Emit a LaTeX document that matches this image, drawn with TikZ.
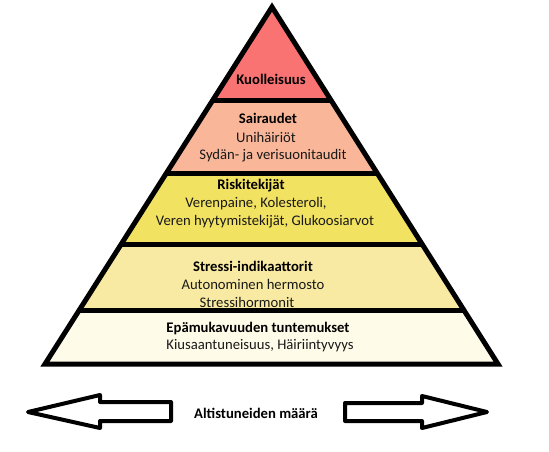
\documentclass[tikz,border=0pt]{standalone}
\usepackage{fontspec}
\setmainfont{Carlito}
\usetikzlibrary{calc}
\definecolor{cdeath}{RGB}{250,115,115}
\definecolor{cdis}{RGB}{250,182,152}
\definecolor{crisk}{RGB}{242,226,98}
\definecolor{cstress}{RGB}{248,234,162}
\definecolor{cdisc}{RGB}{254,251,232}
\definecolor{ctext}{RGB}{25,25,25}
\tikzset{
  band/.style={draw=none},
  edge/.style={line width=5pt, line join=miter, line cap=butt},
  head/.style={font=\fontsize{14.67}{18}\selectfont\bfseries, text=black, anchor=base, inner sep=0pt},
  item/.style={font=\fontsize{14.67}{18}\selectfont, text=ctext, anchor=base, inner sep=0pt},
  bigarrow/.style={draw=black, fill=white, line width=4pt, line join=round}
}
\begin{document}
\begin{tikzpicture}[x=1pt,y=-1pt]
\useasboundingbox[fill=white] (0,0) rectangle (549,451);
% pyramid corners
\coordinate (A) at (272,7);
\coordinate (BL) at (45,364);
\coordinate (BR) at (498,364);
\coordinate (L1) at ($(A)!0.2605!(BL)$); \coordinate (R1) at ($(A)!0.2605!(BR)$);
\coordinate (L2) at ($(A)!0.4650!(BL)$); \coordinate (R2) at ($(A)!0.4650!(BR)$);
\coordinate (L3) at ($(A)!0.6639!(BL)$); \coordinate (R3) at ($(A)!0.6639!(BR)$);
\coordinate (L4) at ($(A)!0.8515!(BL)$); \coordinate (R4) at ($(A)!0.8515!(BR)$);
% bands
\fill[cdeath] (A) -- (L1) -- (R1) -- cycle;
\fill[cdis] (L1) -- (L2) -- (R2) -- (R1) -- cycle;
\fill[crisk] (L2) -- (L3) -- (R3) -- (R2) -- cycle;
\fill[cstress] (L3) -- (L4) -- (R4) -- (R3) -- cycle;
\fill[cdisc] (L4) -- (BL) -- (BR) -- (R4) -- cycle;
% dividers and outline
\draw[edge] (L1) -- (R1);
\draw[edge] (L2) -- (R2);
\draw[edge] (L3) -- (R3);
\draw[edge] (L4) -- (R4);
\draw[edge] (A) -- (BL) -- (BR) -- cycle;
% texts
\node[head] (t1) at (271,84) {Kuolleisuus};
\node[head] (t2) at (268,123) {Sairaudet};
\node[item] (t2a) at (266,142) {Unihäiriöt};
\node[item] (t2b) at (273,159) {Sydän- ja verisuonitaudit};
\node[head] (t3) at (251,189) {Riskitekijät};
\node[item] (t3a) at (256,207) {Verenpaine, Kolesteroli,};
\node[item] (t3b) at (265,225) {Veren hyytymistekijät, Glukoosiarvot};
\node[head] (t4) at (253,271) {Stressi-indikaattorit};
\node[item] (t4a) at (253,289) {Autonominen hermosto};
\node[item] (t4b) at (247,307) {Stressihormonit};
\node[head] (t5) at (258,332) {Epämukavuuden tuntemukset};
\node[item] (t5a) at (260,349) {Kiusaantuneisuus, Häiriintyvyys};
% bottom arrows
\draw[bigarrow] (28,412) -- (100,395) -- (100,402) -- (171,402) -- (171,421) -- (100,421) -- (100,428) -- cycle;
\draw[bigarrow] (345,403) -- (422,403) -- (422,396) -- (487,412) -- (422,428) -- (422,421) -- (345,421) -- cycle;
\node[head] (alt) at (256,418) {Altistuneiden määrä};
\end{tikzpicture}
\end{document}
